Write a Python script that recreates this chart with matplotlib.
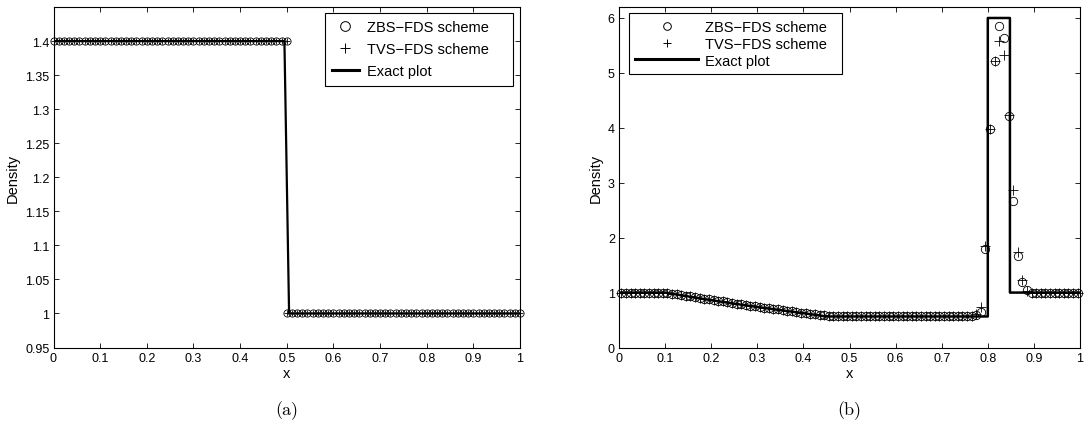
import numpy as np
import matplotlib
matplotlib.use("Agg")
import matplotlib.pyplot as plt
from matplotlib.lines import Line2D

plt.rcParams['font.family'] = ['Liberation Sans', 'DejaVu Sans']

# ---------------- (a) shock tube: density profile ----------------
grid_a = np.linspace(0.0, 1.0, 91)
x_a_left = grid_a[:46]
x_a_right = grid_a[45:]
rho_a_left = [1.4] * 46
rho_a_right = [1.0] * 46
x_exact_a = [0.0, 0.495, 0.505, 1.0]
rho_exact_a = [1.4, 1.4, 1.0, 1.0]

# ---------------- (b) density profile with dense shell ----------------
x_b = np.linspace(0.005, 0.995, 100)
rho_zbs_b = [
    1.000, 1.000, 1.000, 1.000, 1.000, 1.000, 0.999, 0.998, 0.996, 0.993,
    0.985, 0.977, 0.967, 0.955, 0.943, 0.930, 0.917, 0.904, 0.891, 0.878,
    0.865, 0.852, 0.839, 0.826, 0.813, 0.800, 0.788, 0.775, 0.763, 0.751,
    0.739, 0.727, 0.715, 0.703, 0.692, 0.680, 0.669, 0.658, 0.647, 0.636,
    0.625, 0.614, 0.603, 0.593, 0.584, 0.577, 0.573, 0.571, 0.570, 0.570,
    0.570, 0.570, 0.570, 0.570, 0.570, 0.570, 0.570, 0.570, 0.570, 0.570,
    0.570, 0.570, 0.570, 0.570, 0.570, 0.570, 0.570, 0.570, 0.570, 0.570,
    0.570, 0.570, 0.570, 0.570, 0.570, 0.572, 0.575, 0.600, 0.650, 1.790,
    3.970, 5.210, 5.860, 5.630, 4.220, 2.660, 1.660, 1.200, 1.040, 1.000,
    1.000, 1.000, 1.000, 1.000, 1.000, 1.000, 1.000, 1.000, 1.000, 1.000,
]
rho_tvs_b = [
    1.000, 1.000, 1.000, 1.000, 1.000, 1.000, 0.999, 0.998, 0.996, 0.993,
    0.985, 0.977, 0.967, 0.955, 0.943, 0.930, 0.917, 0.904, 0.891, 0.878,
    0.865, 0.852, 0.839, 0.826, 0.813, 0.800, 0.788, 0.775, 0.763, 0.751,
    0.739, 0.727, 0.715, 0.703, 0.692, 0.680, 0.669, 0.658, 0.647, 0.636,
    0.625, 0.614, 0.603, 0.593, 0.584, 0.577, 0.573, 0.571, 0.570, 0.570,
    0.570, 0.570, 0.570, 0.570, 0.570, 0.570, 0.570, 0.570, 0.570, 0.570,
    0.570, 0.570, 0.570, 0.570, 0.570, 0.570, 0.570, 0.570, 0.570, 0.570,
    0.570, 0.570, 0.570, 0.570, 0.570, 0.572, 0.578, 0.610, 0.740, 1.850,
    3.980, 5.220, 5.580, 5.320, 4.240, 2.860, 1.740, 1.220, 1.030, 1.000,
    1.000, 1.000, 1.000, 1.000, 1.000, 1.000, 1.000, 1.000, 1.000, 1.000,
]
x_exact_b = [0.0, 0.1, 0.125, 0.15, 0.175, 0.2, 0.25, 0.3, 0.35, 0.4, 0.45,
             0.8, 0.8, 0.848, 0.848, 1.0]
rho_exact_b = [1.0, 1.0, 0.965, 0.930, 0.895, 0.862, 0.798, 0.738, 0.680,
               0.625, 0.565, 0.565, 6.0, 6.0, 1.0, 1.0]

xticks = [0, 0.1, 0.2, 0.3, 0.4, 0.5, 0.6, 0.7, 0.8, 0.9, 1]
xtick_labels = ['0', '0.1', '0.2', '0.3', '0.4', '0.5', '0.6', '0.7', '0.8', '0.9', '1']
yticks_a = [0.95, 1.0, 1.05, 1.1, 1.15, 1.2, 1.25, 1.3, 1.35, 1.4]
ytick_labels_a = ['0.95', '1', '1.05', '1.1', '1.15', '1.2', '1.25', '1.3', '1.35', '1.4']
yticks_b = [0, 1, 2, 3, 4, 5, 6]
ytick_labels_b = ['0', '1', '2', '3', '4', '5', '6']

labels = ['ZBS\u2212FDS scheme', 'TVS\u2212FDS scheme', 'Exact plot']

W, H = 1085, 427
fig = plt.figure(figsize=(W / 100, H / 100), dpi=100)
bottom = (H - 348.5) / H
height = 340.5 / H
ax1 = fig.add_axes([53.5 / W, bottom, 466.5 / W, height])
ax2 = fig.add_axes([619 / W, bottom, 461 / W, height])


def style(ax, yticks, ylabels, ylim):
    ax.set_xlim(0, 1)
    ax.set_ylim(*ylim)
    ax.set_xticks(xticks)
    ax.set_xticklabels(xtick_labels)
    ax.set_yticks(yticks)
    ax.set_yticklabels(ylabels)
    ax.tick_params(direction='in', length=3.5, width=0.6, top=True, right=True,
                   labelsize=9, pad=3)
    for s in ax.spines.values():
        s.set_linewidth(0.8)
    ax.set_xlabel('x', fontsize=10.5, labelpad=2)
    ax.set_ylabel('Density', fontsize=10.5, labelpad=4)


def padded(names, n):
    # MATLAB-style legends leave extra room after the label text
    return [s + '\u00a0' * n for s in names]


# panel (a)
circ_kw = dict(ls='none', marker='o', mfc='none', mec='black', mew=0.6, clip_on=False)
plus_kw = dict(ls='none', marker='+', color='black', mew=0.6, clip_on=False)
ax1.plot(x_a_left, rho_a_left, ms=5.2, zorder=3, **circ_kw)
ax1.plot(x_a_right, rho_a_right, ms=5.2, zorder=3, **circ_kw)
ax1.plot(x_a_left, rho_a_left, ms=4.5, zorder=3, **plus_kw)
ax1.plot(x_a_right, rho_a_right, ms=4.5, zorder=3, **plus_kw)
ax1.plot(x_exact_a, rho_exact_a, color='black', lw=1.6, zorder=2)
style(ax1, yticks_a, ytick_labels_a, (0.95, 1.45))

# panel (b)
ax2.plot(x_b, rho_zbs_b, ms=6.0, zorder=3, **circ_kw)
ax2.plot(x_b, rho_tvs_b, ms=6.5, zorder=3, **plus_kw)
ax2.plot(x_exact_b, rho_exact_b, color='black', lw=1.8, zorder=2)
style(ax2, yticks_b, ytick_labels_b, (0, 6.2))

handles = [
    Line2D([], [], ls='none', marker='o', mfc='none', mec='black', mew=0.7, ms=7),
    Line2D([], [], ls='none', marker='+', color='black', mew=0.7, ms=7),
    Line2D([], [], color='black', lw=2.2),
]
leg1 = ax1.legend(handles, padded(labels, 4), loc='upper right',
                  bbox_to_anchor=(0.985, 0.982),
                  fontsize=10.5, frameon=True, fancybox=False, edgecolor='black',
                  framealpha=1, borderpad=0.5, labelspacing=0.55,
                  handlelength=1.8, handletextpad=0.6, borderaxespad=0)
leg1.get_frame().set_linewidth(0.8)

handles_b = [
    Line2D([], [], ls='none', marker='o', mfc='none', mec='black', mew=0.7, ms=5.5),
    Line2D([], [], ls='none', marker='+', color='black', mew=0.7, ms=6),
    Line2D([], [], color='black', lw=2.2),
]
leg2 = ax2.legend(handles_b, padded(labels, 2), loc='upper left',
                  bbox_to_anchor=(0.021, 0.982),
                  fontsize=10.5, frameon=True, fancybox=False, edgecolor='black',
                  framealpha=1, borderpad=0.45, labelspacing=0.2,
                  handlelength=4.3, handletextpad=0.5, borderaxespad=0)
leg2.get_frame().set_linewidth(0.8)

# sub-figure captions
fig.text((53.5 + 520) / 2 / W, 1 - 411 / H, '(a)', family='cmr10', fontsize=13,
         ha='center', va='center')
fig.text((619 + 1080) / 2 / W, 1 - 411 / H, '(b)', family='cmr10', fontsize=13,
         ha='center', va='center')

fig.savefig('out.png', dpi=100)
